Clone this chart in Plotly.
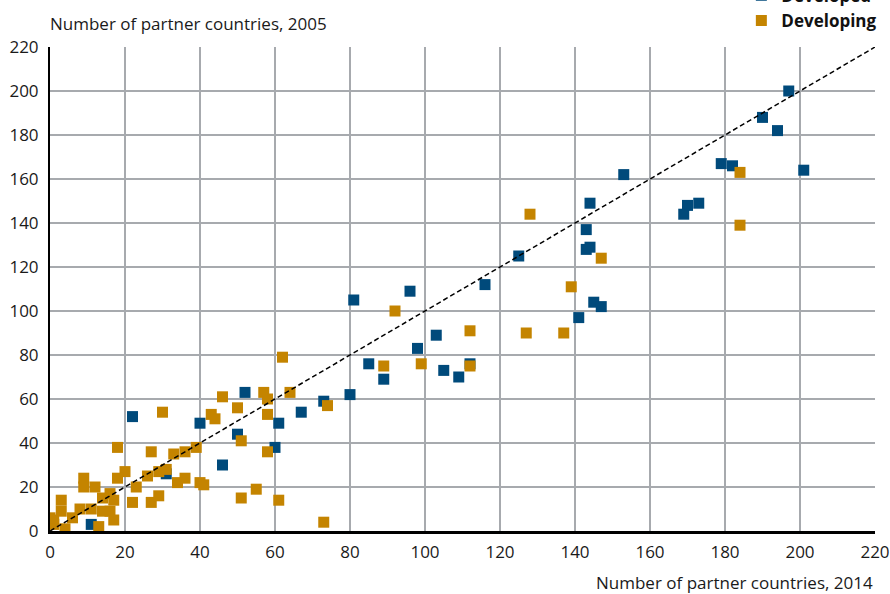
import plotly.graph_objects as go

# Developed countries: partner countries 2014 (x) vs 2005 (y)
developed_x = [197, 190, 194, 201, 153, 179, 182, 173, 170, 169, 144, 143, 143, 144, 125, 116,
               145, 147, 141, 81, 96, 103, 98, 85, 89, 105, 109, 112, 80, 73, 67, 52, 40, 50,
               61, 60, 46, 22, 31, 11]
developed_y = [200, 188, 182, 164, 162, 167, 166, 149, 148, 144, 149, 137, 128, 129, 125, 112,
               104, 102, 97, 105, 109, 89, 83, 76, 69, 73, 70, 76, 62, 59, 54, 63, 49, 44,
               49, 38, 30, 52, 26, 3]

# Developing countries
developing_x = [184, 184, 147, 128, 139, 127, 137, 92, 112, 89, 99, 112, 74, 62, 46, 57, 58, 64,
                50, 43, 44, 58, 51, 58, 39, 36, 36, 34, 40, 41, 55, 51, 61, 73,
                30, 18, 27, 20, 18, 9, 9, 12, 23, 26, 29, 31, 33, 14, 17, 22, 27, 29,
                3, 3, 1, 1, 0, 4, 6, 8, 11, 14, 16, 17, 13, 16]
developing_y = [163, 139, 124, 144, 111, 90, 90, 100, 91, 75, 76, 75, 57, 79, 61, 63, 60, 63,
                56, 53, 51, 53, 41, 36, 38, 36, 24, 22, 22, 21, 19, 15, 14, 4,
                54, 38, 36, 27, 24, 24, 20, 20, 20, 25, 27, 28, 35, 15, 14, 13, 13, 16,
                14, 9, 5, 3, 6, 1, 6, 10, 10, 9, 9, 5, 2, 17]

diag = [0, 220]
ticks = [0, 20, 40, 60, 80, 100, 120, 140, 160, 180, 200, 220]

BLUE = "#004A7B"
ORANGE = "#C48400"
FONT = "Open Sans"

fig = go.Figure()
fig.add_trace(go.Scatter(x=developed_x, y=developed_y, mode="markers", name="Developed",
                         marker=dict(symbol="square", size=11, color=BLUE, line=dict(width=0))))
fig.add_trace(go.Scatter(x=developing_x, y=developing_y, mode="markers", name="Developing",
                         marker=dict(symbol="square", size=11, color=ORANGE, line=dict(width=0))))
fig.add_trace(go.Scatter(x=diag, y=diag, mode="lines", showlegend=False, hoverinfo="skip",
                         line=dict(color="black", width=1.5, dash="5px,3px")))

axis_common = dict(range=[0, 220], tickvals=ticks, showgrid=True, gridcolor="#A7AAAE",
                   gridwidth=2, zeroline=False, showline=True, linecolor="black",
                   tickfont=dict(family=FONT, size=17, color="#1a1a1a"), fixedrange=True)

fig.update_layout(
    width=890, height=594,
    margin=dict(l=50, r=15, t=47, b=63, autoexpand=False),
    paper_bgcolor="white", plot_bgcolor="white",
    xaxis=dict(axis_common, linewidth=2.5, ticklabelstandoff=4),
    yaxis=dict(axis_common, linewidth=2, ticklabelstandoff=6),
    showlegend=True,
    legend=dict(x=0.838, y=1.143, xanchor="left", yanchor="top", bgcolor="rgba(0,0,0,0)",
                font=dict(family=FONT, size=17, color="#111111", weight="bold"),
                tracegroupgap=0, itemwidth=30),
    annotations=[
        dict(text="Number of partner countries, 2005", xref="paper", yref="paper",
             x=0, y=1.0, xanchor="left", yanchor="bottom", yshift=10, xshift=-2, showarrow=False,
             font=dict(family=FONT, size=17, color="#1a1a1a")),
        dict(text="Number of partner countries, 2014", xref="paper", yref="paper",
             x=1.0, y=0, xanchor="right", yanchor="top", yshift=-38, showarrow=False,
             font=dict(family=FONT, size=17, color="#1a1a1a")),
    ],
)

fig.write_html("out.html", config={"displayModeBar": False},
               post_script="document.body.style.margin='0';")
